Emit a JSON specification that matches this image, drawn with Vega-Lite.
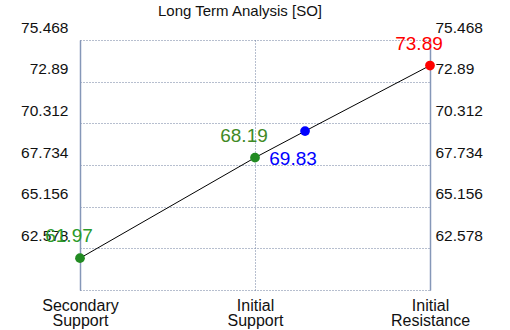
{
  "$schema": "https://vega.github.io/schema/vega-lite/v6.json",
  "width": 350,
  "height": 250,
  "autosize": "none",
  "padding": {"left": 80, "right": 80, "top": 40, "bottom": 40},
  "background": "white",
  "title": {
    "text": "Long Term Analysis [SO]",
    "fontSize": 15,
    "font": "Liberation Sans",
    "fontWeight": "normal",
    "color": "#111",
    "anchor": "middle",
    "dx": -15,
    "dy": 13,
    "offset": 14
  },
  "config": {
    "view": {"stroke": null},
    "axis": {
      "labelFont": "Liberation Sans",
      "labelFontSize": 15.5,
      "labelColor": "#111",
      "ticks": false,
      "title": null,
      "gridColor": "#6f7f9f",
      "gridDash": [1, 2],
      "gridWidth": 1,
      "domainColor": "#8597b8",
      "domainWidth": 1.5
    }
  },
  "data": {
    "values": [
      {"x": 0, "y": 61.97, "name": "Secondary Support", "label": "61.97"},
      {"x": 1, "y": 68.19, "name": "Initial Support", "label": "68.19"},
      {"x": 1.286, "y": 69.83, "name": "Current", "label": "69.83"},
      {"x": 2, "y": 73.89, "name": "Initial Resistance", "label": "73.89"}
    ]
  },
  "encoding": {
    "x": {
      "field": "x",
      "type": "quantitative",
      "scale": {"domain": [0, 2], "nice": false, "zero": false},
      "axis": {
        "values": [0, 1, 2],
        "grid": true,
        "domain": false,
        "labelFlush": false,
        "labelBound": false,
        "labelFontSize": 16,
        "labelPadding": 7,
        "labelLineHeight": 15,
        "labelExpr": "datum.value == 0 ? ['Secondary', 'Support'] : datum.value == 1 ? ['Initial', 'Support'] : ['Initial', 'Resistance']"
      }
    }
  },
  "layer": [
    {
      "mark": {"type": "line", "color": "black", "strokeWidth": 1},
      "encoding": {
        "y": {
          "field": "y",
          "type": "quantitative",
          "scale": {"domain": [60, 75.468], "nice": false, "zero": false},
          "axis": {
            "orient": "left",
            "values": [60, 62.578, 65.156, 67.734, 70.312, 72.89, 75.468],
            "grid": true,
            "labelOffset": -13,
            "labelPadding": 12,
            "labelExpr": "datum.value == 60 ? '' : '' + datum.value"
          }
        }
      }
    },
    {
      "mark": {"type": "point", "filled": true, "size": 95, "opacity": 1},
      "encoding": {
        "y": {
          "field": "y",
          "type": "quantitative",
          "scale": {"domain": [60, 75.468], "nice": false, "zero": false},
          "axis": {
            "orient": "right",
            "values": [60, 62.578, 65.156, 67.734, 70.312, 72.89, 75.468],
            "grid": false,
            "labelOffset": -13,
            "labelPadding": 5,
            "labelExpr": "datum.value == 60 ? '' : '' + datum.value"
          }
        },
        "color": {
          "field": "name",
          "type": "nominal",
          "legend": null,
          "scale": {
            "domain": ["Secondary Support", "Initial Support", "Current", "Initial Resistance"],
            "range": ["#228B22", "#228B22", "#0000ff", "#ff0000"]
          }
        }
      }
    },
    {
      "transform": [{"filter": "datum.name != 'Current'"}],
      "mark": {"type": "text", "font": "Liberation Sans", "fontSize": 19, "dx": -11, "dy": -22, "align": "center", "baseline": "middle"},
      "encoding": {
        "y": {"field": "y", "type": "quantitative", "axis": null},
        "text": {"field": "label"},
        "color": {
          "field": "name",
          "type": "nominal",
          "legend": null,
          "scale": {
            "domain": ["Secondary Support", "Initial Support", "Current", "Initial Resistance"],
            "range": ["#2a9a2a", "#3f8a26", "#0000ff", "#ff0000"]
          }
        }
      }
    },
    {
      "transform": [{"filter": "datum.name == 'Current'"}],
      "mark": {"type": "text", "font": "Liberation Sans", "fontSize": 19, "dx": -12, "dy": 28, "align": "center", "baseline": "middle", "color": "#0000ff"},
      "encoding": {
        "y": {"field": "y", "type": "quantitative", "axis": null},
        "text": {"field": "label"}
      }
    }
  ],
  "resolve": {"scale": {"color": "independent"}}
}
